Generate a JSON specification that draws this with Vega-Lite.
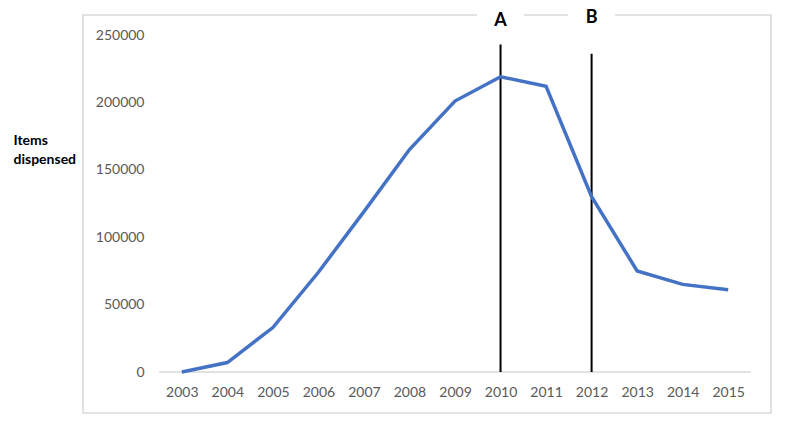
{
  "$schema": "https://vega.github.io/schema/vega-lite/v6.json",
  "width": 688,
  "height": 398,
  "autosize": {"type": "none"},
  "padding": {"left": 83, "top": 15, "right": 36, "bottom": 31},
  "background": "white",
  "config": {"view": {"stroke": "#d9d9d9", "strokeWidth": 1.5}, "font": "Lato"},
  "datasets": {
    "series": [
      {"year": 2003, "items": 0},
      {"year": 2004, "items": 7000},
      {"year": 2005, "items": 33000},
      {"year": 2006, "items": 74000},
      {"year": 2007, "items": 119000},
      {"year": 2008, "items": 165000},
      {"year": 2009, "items": 201000},
      {"year": 2010, "items": 219000},
      {"year": 2011, "items": 212000},
      {"year": 2012, "items": 130000},
      {"year": 2013, "items": 75000},
      {"year": 2014, "items": 65000},
      {"year": 2015, "items": 61000}
    ],
    "markers": [
      {"label": "A", "year": 2010, "base": 0, "top": 243000, "labelY": 260500},
      {"label": "B", "year": 2012, "base": 0, "top": 236000, "labelY": 262500}
    ],
    "baseline": [
      {"from": 2002.5, "to": 2015.5, "level": 0}
    ]
  },
  "data": {"name": "series"},
  "layer": [
    {
      "data": {"name": "markers"},
      "mark": {"type": "point", "shape": "square", "filled": true, "color": "white", "opacity": 1, "size": 2209, "strokeWidth": 0},
      "encoding": {
        "x": {"field": "year", "type": "quantitative", "scale": {"domain": [2000.83, 2015.94], "nice": false, "zero": false},
          "axis": {"orient": "bottom", "offset": -41, "values": [2003,2004,2005,2006,2007,2008,2009,2010,2011,2012,2013,2014,2015], "format": "d", "domain": false, "ticks": false, "tickSize": 0, "grid": false, "labelPadding": 13, "labelFontSize": 14, "labelColor": "#595959", "title": null}},
        "y": {"field": "labelY", "type": "quantitative", "scale": {"domain": [-30415, 264837], "nice": false, "zero": false},
          "axis": {"orient": "left", "offset": -61, "values": [0,50000,100000,150000,200000,250000], "format": "d", "domain": false, "ticks": false, "tickSize": 0, "grid": false, "labelPadding": 0, "labelFontSize": 14, "labelColor": "#595959",
            "title": ["Items", "dispensed"], "titleAngle": 0, "titleAlign": "left", "titleBaseline": "top", "titleX": -131, "titleY": 118, "titleFontWeight": "bold", "titleFontSize": 14, "titleColor": "black", "titleLineHeight": 19, "titleFont": "Lato"}}
      }
    },
    {
      "data": {"name": "baseline"},
      "mark": {"type": "rule", "color": "#d9d9d9", "strokeWidth": 1.5},
      "encoding": {
        "x": {"field": "from", "type": "quantitative"},
        "x2": {"field": "to"},
        "y": {"field": "level", "type": "quantitative"}
      }
    },
    {
      "data": {"name": "markers"},
      "mark": {"type": "rule", "color": "black", "strokeWidth": 2},
      "encoding": {
        "x": {"field": "year", "type": "quantitative"},
        "y": {"field": "base", "type": "quantitative"},
        "y2": {"field": "top"}
      }
    },
    {
      "mark": {"type": "line", "color": "#4472C4", "strokeWidth": 3.5},
      "encoding": {
        "x": {"field": "year", "type": "quantitative"},
        "y": {"field": "items", "type": "quantitative"}
      }
    },
    {
      "data": {"name": "markers"},
      "mark": {"type": "text", "fontSize": 18, "fontWeight": "bold", "color": "black", "font": "Lato"},
      "encoding": {
        "x": {"field": "year", "type": "quantitative"},
        "y": {"field": "labelY", "type": "quantitative"},
        "text": {"field": "label"}
      }
    }
  ]
}
